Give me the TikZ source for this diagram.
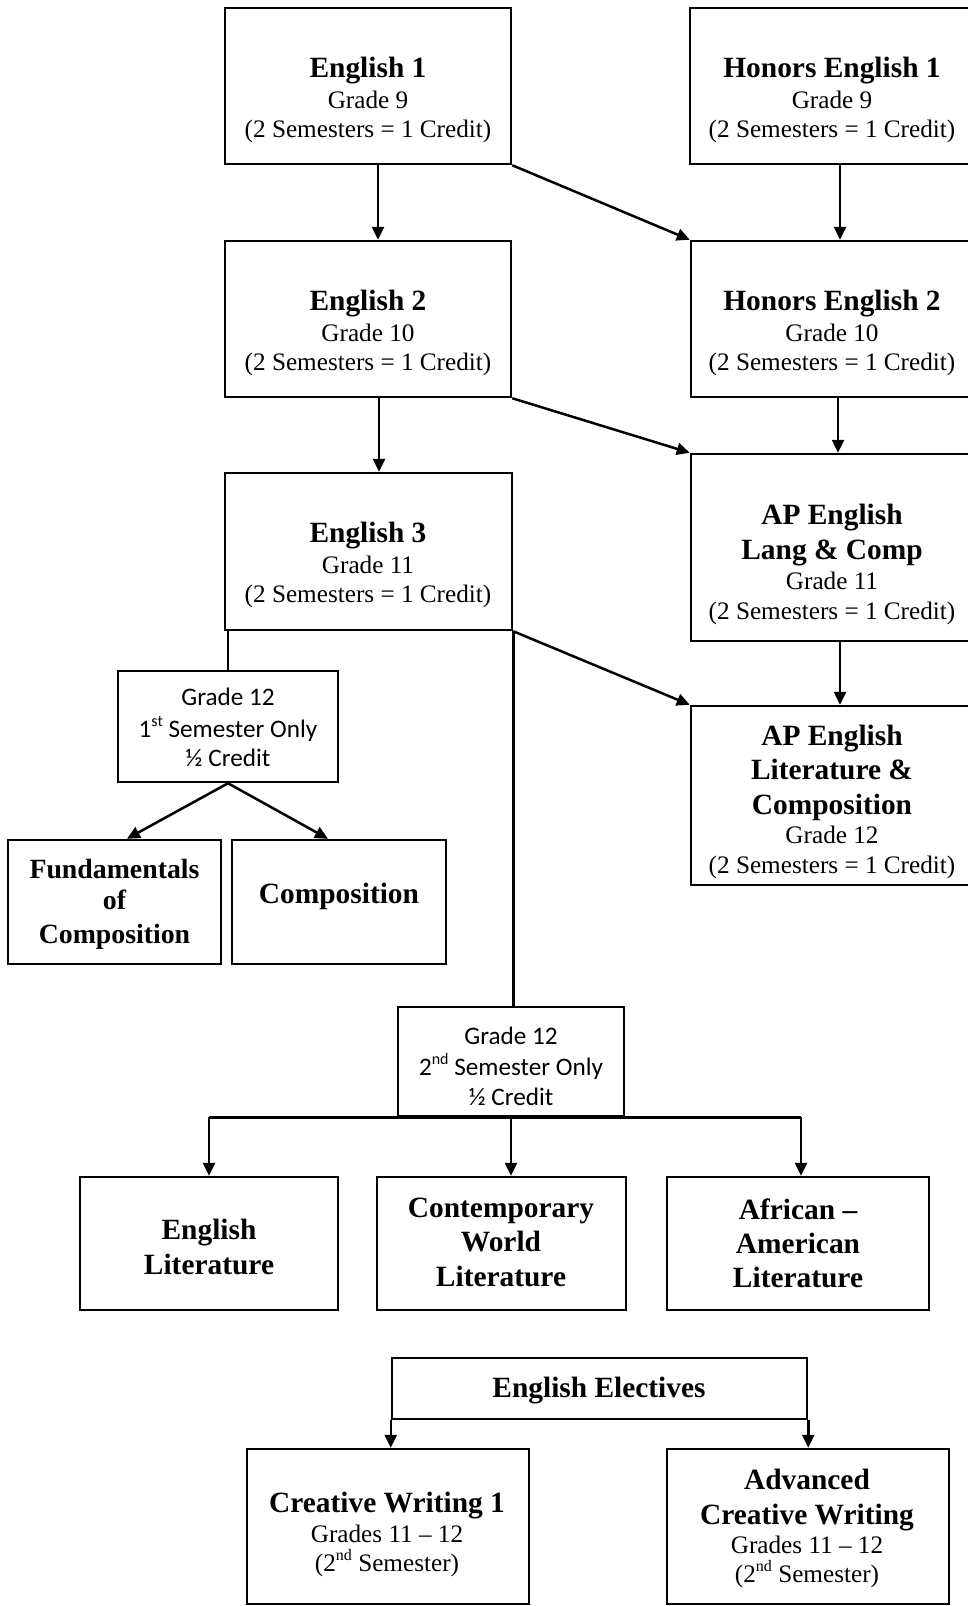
\documentclass[tikz,border=0pt]{standalone}
\usepackage{fontspec}
\setmainfont{Liberation Serif}
\newfontfamily\calfont{Carlito}
\usetikzlibrary{arrows.meta}
\newcommand\mysup[1]{\raisebox{0.42em}{\fontsize{16}{16}\selectfont #1}}
\tikzset{
  box/.style={draw, line width=2.5pt, inner sep=0pt, rectangle},
  ttl/.style={anchor=base, inner sep=0pt, font=\fontsize{29.4}{34}\selectfont\bfseries},
  sttl/.style={anchor=base, inner sep=0pt, font=\fontsize{27.8}{32}\selectfont\bfseries},
  reg/.style={anchor=base, inner sep=0pt, font=\fontsize{25.2}{30}\selectfont},
  cal/.style={anchor=base, inner sep=0pt, font=\calfont\fontsize{25.2}{30}\selectfont},
  arr/.style={line width=2.5pt, -{Triangle[length=13pt,width=12pt]}},
  ln/.style={line width=2.5pt},
}
\begin{document}
\begin{tikzpicture}[x=1pt,y=-1pt]
\useasboundingbox (0,0) rectangle (968,1606);
% boxes
\node[box, minimum width=286pt, minimum height=156pt] (e1) at (368,86) {};
\node[box, minimum width=290pt, minimum height=156pt] (h1) at (835,86) {};
\node[box, minimum width=286pt, minimum height=156pt] (e2) at (368,319) {};
\node[box, minimum width=289pt, minimum height=156pt] (h2) at (835.5,319) {};
\node[box, minimum width=287pt, minimum height=157pt] (e3) at (368.5,551.5) {};
\node[box, minimum width=289pt, minimum height=187pt] (apl) at (835.5,547.5) {};
\node[box, minimum width=289pt, minimum height=179pt] (apt) at (835.5,795.5) {};
\node[box, minimum width=220pt, minimum height=111pt] (g1) at (228,726.5) {};
\node[box, minimum width=213pt, minimum height=124pt] (fun) at (114.5,902) {};
\node[box, minimum width=214pt, minimum height=124pt] (com) at (339,902) {};
\node[box, minimum width=226pt, minimum height=109pt] (g2) at (511,1061.5) {};
\node[box, minimum width=258pt, minimum height=133pt] (el) at (209,1243.5) {};
\node[box, minimum width=249pt, minimum height=133pt] (cw) at (501.5,1243.5) {};
\node[box, minimum width=262pt, minimum height=133pt] (aa) at (798,1243.5) {};
\node[box, minimum width=415pt, minimum height=61pt] (ee) at (599.5,1388.5) {};
\node[box, minimum width=282pt, minimum height=155pt] (cw1) at (388,1526.5) {};
\node[box, minimum width=282pt, minimum height=155pt] (acw) at (808,1526.5) {};
% texts
\node[ttl] (e1a) at (368,77) {English 1};
\node[reg] (e1b) at (368,108) {Grade 9};
\node[reg] (e1c) at (368,137) {(2 Semesters = 1 Credit)};
\node[ttl] (h1a) at (832,77) {Honors English 1};
\node[reg] (h1b) at (832,108) {Grade 9};
\node[reg] (h1c) at (832,137) {(2 Semesters = 1 Credit)};
\node[ttl] (e2a) at (368,310) {English 2};
\node[reg] (e2b) at (368,341) {Grade 10};
\node[reg] (e2c) at (368,370) {(2 Semesters = 1 Credit)};
\node[ttl] (h2a) at (832,310) {Honors English 2};
\node[reg] (h2b) at (832,341) {Grade 10};
\node[reg] (h2c) at (832,370) {(2 Semesters = 1 Credit)};
\node[ttl] (e3a) at (368,542) {English 3};
\node[reg] (e3b) at (368,573) {Grade 11};
\node[reg] (e3c) at (368,602) {(2 Semesters = 1 Credit)};
\node[ttl] (apla) at (832,524) {AP English};
\node[ttl] (aplb) at (832,559) {Lang \& Comp};
\node[reg] (aplc) at (832,589) {Grade 11};
\node[reg] (apld) at (832,619) {(2 Semesters = 1 Credit)};
\node[ttl] (apta) at (832,745) {AP English};
\node[ttl] (aptb) at (832,779) {Literature \&};
\node[ttl] (aptc) at (832,814) {Composition};
\node[reg] (aptd) at (832,843) {Grade 12};
\node[reg] (apte) at (832,873) {(2 Semesters = 1 Credit)};
\node[cal] (g1a) at (228,705) {Grade 12};
\node[cal] (g1b) at (228,737) {1\mysup{st} Semester Only};
\node[cal] (g1c) at (228,766) {½ Credit};
\node[sttl] (funa) at (114.5,878) {Fundamentals};
\node[sttl] (funb) at (114.5,909) {of};
\node[sttl] (func) at (114.5,943) {Composition};
\node[ttl] (coma) at (339,903) {Composition};
\node[cal] (g2a) at (511,1044) {Grade 12};
\node[cal] (g2b) at (511,1075) {2\mysup{nd} Semester Only};
\node[cal] (g2c) at (511,1105) {½ Credit};
\node[ttl] (ela) at (209,1239) {English};
\node[ttl] (elb) at (209,1274) {Literature};
\node[ttl] (cwa) at (501,1217) {Contemporary};
\node[ttl] (cwb) at (501,1251) {World};
\node[ttl] (cwc) at (501,1286) {Literature};
\node[ttl] (aaa) at (798,1219) {African –};
\node[ttl] (aab) at (798,1253) {American};
\node[ttl] (aac) at (798,1287) {Literature};
\node[ttl] (eea) at (599,1397) {English Electives};
\node[ttl] (cw1a) at (387,1512) {Creative Writing 1};
\node[reg] (cw1b) at (387,1542) {Grades 11 – 12};
\node[reg] (cw1c) at (387,1571) {(2\mysup{nd} Semester)};
\node[ttl] (acwa) at (807,1489) {Advanced};
\node[ttl] (acwb) at (807,1524) {Creative Writing};
\node[reg] (acwc) at (807,1553) {Grades 11 – 12};
\node[reg] (acwd) at (807,1582) {(2\mysup{nd} Semester)};
% column coordinates
\coordinate (x378) at (378,0);
\coordinate (x379) at (379,0);
\coordinate (x840) at (840,0);
\coordinate (x838) at (838,0);
\coordinate (x127) at (127,0);
\coordinate (x328) at (328,0);
\coordinate (x209) at (209,0);
\coordinate (x801) at (801,0);
% connectors
\draw[arr] (e1.south -| x378) -- (e2.north -| x378);
\draw[arr] (e1.south east) -- (h2.north west);
\draw[arr] (h1.south -| x840) -- (h2.north -| x840);
\draw[arr] (e2.south -| x379) -- (e3.north -| x379);
\draw[arr] (e2.south east) -- (apl.north west);
\draw[arr] (h2.south -| x838) -- (apl.north -| x838);
\draw[arr] (e3.south east) -- (apt.north west);
\draw[arr] (apl.south -| x840) -- (apt.north -| x840);
\draw[ln] (e3.south -| g1.north) -- (g1.north);
\draw[arr] (g1.south) -- (fun.north -| x127);
\draw[arr] (g1.south) -- (com.north -| x328);
\draw[ln] (e3.south east) -- (g2.north -| e3.south east);
\draw[ln] (g2.south -| x209) -- (g2.south -| x801);
\draw[arr] (g2.south -| x209) -- (el.north -| x209);
\draw[arr] (g2.south) -- (cw.north -| g2.south);
\draw[arr] (g2.south -| x801) -- (aa.north -| x801);
\draw[arr] (ee.south west) -- (cw1.north -| ee.south west);
\draw[arr] (ee.south east) -- (acw.north -| ee.south east);
\end{tikzpicture}
\end{document}
